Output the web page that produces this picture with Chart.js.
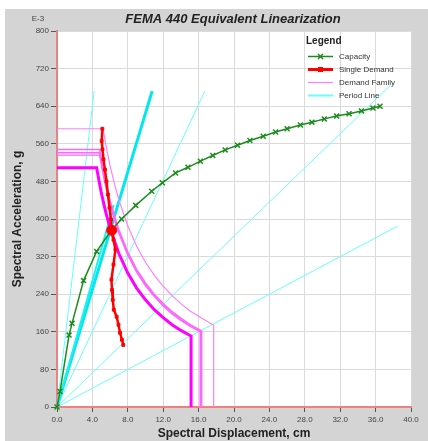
<!DOCTYPE html>
<html>
<head>
<meta charset="utf-8">
<script src="https://cdn.jsdelivr.net/npm/chart.js@4.4.0/dist/chart.umd.min.js"></script>
<style>
html, body { margin: 0; padding: 0; background: #fff; }
#wrap { width: 428px; height: 441px; }
</style>
</head>
<body>
<div id="wrap"><canvas id="fema-chart" width="428" height="441"></canvas></div>
<script>
// axis ticks
var xTicks = [0, 4, 8, 12, 16, 20, 24, 28, 32, 36, 40];
var yTicks = [0, 80, 160, 240, 320, 400, 480, 560, 640, 720, 800];

// capacity curve (cm, g E-3)
var capX = [0, 0.34, 1.36, 1.70, 3.0, 4.48, 6.18, 7.3, 8.9, 10.7, 11.9, 13.4, 14.8, 16.2, 17.6, 19.0, 20.4, 21.8, 23.3, 24.7, 26.0, 27.5, 28.8, 30.2, 31.6, 33.0, 34.4, 35.7, 36.5];
var capY = [0, 33, 153, 178, 269, 331, 377, 400, 429, 459, 477, 498, 510, 523, 535, 547, 557, 567, 576, 585, 592, 600, 606, 613, 619, 624, 630, 636, 640];

// single demand
var demX = [5.12, 5.05, 5.14, 5.25, 5.42, 5.59, 5.76, 5.93, 6.10, 6.18, 6.38, 6.60, 6.38, 6.15, 6.22, 6.30, 6.42, 6.74, 6.95, 7.12, 7.34, 7.49];
var demY = [592, 566, 548, 527, 505, 480, 452, 424, 399, 376, 356, 335, 303, 271, 249, 228, 207, 192, 175, 158, 143, 132];

// performance point
var perfX = [6.18];
var perfY = [376];

// demand family
var fam1X = [0, 5.2, 5.6, 6, 6.5, 7, 8, 9, 10, 11, 12, 13, 14, 15, 16, 17.7, 17.7];
var fam1Y = [592, 592, 550, 513, 474, 440, 385, 342, 308, 280, 257, 237, 220, 205, 193, 174, 0];
var fam2X = [0, 4.82, 5.2, 5.6, 6, 6.5, 7, 8, 9, 10, 11, 12, 13, 14, 15, 16.35, 16.35];
var fam2Y = [548, 548, 508, 471, 440, 406, 377, 330, 293, 264, 240, 220, 203, 189, 176, 162, 0];
var fam3X = [0, 4.82, 5.2, 5.6, 6, 6.5, 7, 8, 9, 10, 11, 12, 13, 14, 15, 16.2, 16.2];
var fam3Y = [541, 541, 502, 466, 435, 402, 373, 326, 290, 261, 237, 218, 201, 186, 174, 162, 0];
var fam4X = [0, 4.81, 5.2, 5.6, 6, 6.5, 7, 8, 9, 10, 11, 12, 13, 14, 15, 16.2, 16.2];
var fam4Y = [536, 536, 496, 461, 430, 397, 369, 323, 287, 258, 235, 215, 198, 184, 172, 160, 0];
var fam5X = [0, 4.48, 5, 5.5, 6, 7, 8, 9, 10, 11, 12, 13, 14, 15.15, 15.15];
var fam5Y = [509, 509, 456, 415, 380, 326, 285, 253, 228, 207, 190, 175, 163, 151, 0];

// period lines: each from origin to end point
var periodEndX = [4.2, 6.4, 10.75, 16.7, 37.7, 38.5];
var periodEndY = [672, 430, 672, 672, 685, 385];

var FONT = '"Liberation Sans", Arial, sans-serif';

function pts(xs, ys) {
  return xs.map(function (x, i) { return { x: x, y: ys[i] }; });
}

function familyDataset(xs, ys, color, width, first) {
  return {
    label: 'Demand Family',
    legend: first,
    data: pts(xs, ys),
    showLine: true,
    borderColor: color,
    backgroundColor: color,
    borderWidth: width,
    pointRadius: 0,
    tension: 0
  };
}

function periodDatasets() {
  var widths = [1, 2, 3, 1, 1, 1];
  var colors = ['#66ffff', '#22eeee', '#00e8ee', '#66ffff', '#66ffff', '#66ffff'];
  return periodEndX.map(function (x, i) {
    return {
      label: 'Period Line',
      legend: i === 0,
      legendColor: '#66ffff',
      legendWidth: 2,
      data: pts([0, x], [0, periodEndY[i]]),
      showLine: true,
      borderColor: colors[i],
      backgroundColor: colors[i],
      borderWidth: widths[i],
      pointRadius: 0
    };
  });
}

var backgroundPlugin = {
  id: 'femaBackground',
  beforeDraw: function (chart) {
    var ctx = chart.ctx;
    var a = chart.chartArea;
    ctx.save();
    ctx.fillStyle = '#ffffff';
    ctx.fillRect(0, 0, chart.width, chart.height);
    ctx.fillStyle = '#d4d4d4';
    ctx.fillRect(5, 9, chart.width - 5, chart.height - 9);
    ctx.fillStyle = '#ffffff';
    ctx.fillRect(a.left, a.top, a.right - a.left, a.bottom - a.top);

    ctx.textBaseline = 'middle';
    ctx.textAlign = 'center';
    ctx.fillStyle = '#222';
    ctx.font = 'italic bold 13px ' + FONT;
    ctx.fillText('FEMA 440 Equivalent Linearization', 233, 19);
    ctx.fillStyle = '#444';
    ctx.font = '8px ' + FONT;
    ctx.fillText('E-3', 38, 19);
    ctx.restore();
  }
};

var legendPlugin = {
  id: 'femaLegend',
  afterDraw: function (chart) {
    var ctx = chart.ctx;
    ctx.save();
    ctx.textBaseline = 'middle';
    ctx.textAlign = 'left';
    ctx.fillStyle = '#222';
    ctx.font = 'bold 10px ' + FONT;
    ctx.fillText('Legend', 306, 41);
    ctx.font = '8px ' + FONT;
    var row = 0;
    chart.data.datasets.forEach(function (ds) {
      if (!ds.legend) return;
      var y = 56.5 + row * 13;
      ctx.strokeStyle = ds.legendColor || ds.borderColor;
      ctx.lineWidth = ds.legendWidth || ds.borderWidth;
      ctx.beginPath();
      ctx.moveTo(308, y);
      ctx.lineTo(333, y);
      ctx.stroke();
      if (ds.pointStyle === 'crossRot') {
        ctx.lineWidth = 1.5;
        ctx.beginPath();
        ctx.moveTo(318, y - 2.5); ctx.lineTo(323, y + 2.5);
        ctx.moveTo(318, y + 2.5); ctx.lineTo(323, y - 2.5);
        ctx.stroke();
      } else if (ds.pointStyle === 'rect') {
        ctx.fillStyle = ds.borderColor;
        ctx.fillRect(318, y - 2.5, 5, 5);
      }
      ctx.fillStyle = '#333';
      ctx.fillText(ds.label, 339, y);
      row++;
    });
    ctx.restore();
  }
};

var datasets = [
  {
    label: 'Performance Point',
    data: pts(perfX, perfY),
    showLine: false,
    pointRadius: 5,
    pointStyle: 'circle',
    backgroundColor: '#ff0000',
    borderColor: '#ff0000'
  },
  {
    label: 'Capacity',
    legend: true,
    data: pts(capX, capY),
    showLine: true,
    borderColor: '#1c8c1c',
    backgroundColor: '#1c8c1c',
    borderWidth: 1.5,
    pointStyle: 'crossRot',
    pointRadius: 3.5,
    pointBorderWidth: 1.5,
    clip: false
  },
  {
    label: 'Single Demand',
    legend: true,
    legendWidth: 3,
    data: pts(demX, demY),
    showLine: true,
    borderColor: '#ff0000',
    backgroundColor: '#ff0000',
    borderWidth: 2.5,
    pointStyle: 'rect',
    pointRadius: 2,
    pointBorderWidth: 1
  },
  familyDataset(fam1X, fam1Y, '#ff80ff', 1.2, true),
  familyDataset(fam2X, fam2Y, '#ff66ff', 1.4, false),
  familyDataset(fam3X, fam3Y, '#ff66ff', 1.4, false),
  familyDataset(fam4X, fam4Y, '#ff66ff', 1.4, false),
  familyDataset(fam5X, fam5Y, '#ff00ff', 3, false)
].concat(periodDatasets());

new Chart(document.getElementById('fema-chart'), {
  type: 'scatter',
  data: { datasets: datasets },
  plugins: [backgroundPlugin, legendPlugin],
  options: {
    responsive: false,
    animation: false,
    devicePixelRatio: 1,
    layout: { padding: { left: 0, top: 31, right: 17, bottom: 0 } },
    plugins: {
      legend: { display: false },
      tooltip: { enabled: false },
      title: { display: false }
    },
    scales: {
      x: {
        type: 'linear',
        min: 0,
        max: 40,
        afterBuildTicks: function (s) { s.ticks = xTicks.map(function (v) { return { value: v }; }); },
        afterFit: function (s) { s.height = 34; },
        ticks: {
          font: { size: 8, family: FONT },
          color: '#444',
          padding: 3,
          maxRotation: 0,
          autoSkip: false,
          callback: function (v) { return v.toFixed(1); }
        },
        grid: { color: '#dadada', lineWidth: 1, tickLength: 5, tickColor: '#555' },
        border: { color: '#f08080', width: 2 },
        title: {
          display: true,
          text: 'Spectral Displacement, cm',
          font: { size: 12, weight: 'bold', family: FONT },
          color: '#222',
          padding: { top: 0, bottom: 0 }
        }
      },
      y: {
        type: 'linear',
        min: 0,
        max: 800,
        afterBuildTicks: function (s) { s.ticks = yTicks.map(function (v) { return { value: v }; }); },
        afterFit: function (s) { s.width = 57; },
        ticks: {
          font: { size: 8, family: FONT },
          color: '#444',
          padding: 2,
          autoSkip: false
        },
        grid: { color: '#dadada', lineWidth: 1, tickLength: 6, tickColor: '#555' },
        border: { color: '#f08080', width: 2 },
        title: {
          display: true,
          text: 'Spectral Acceleration, g',
          font: { size: 12, weight: 'bold', family: FONT },
          color: '#222',
          padding: { top: 10, bottom: 0 }
        }
      }
    }
  }
});
</script>
</body>
</html>
